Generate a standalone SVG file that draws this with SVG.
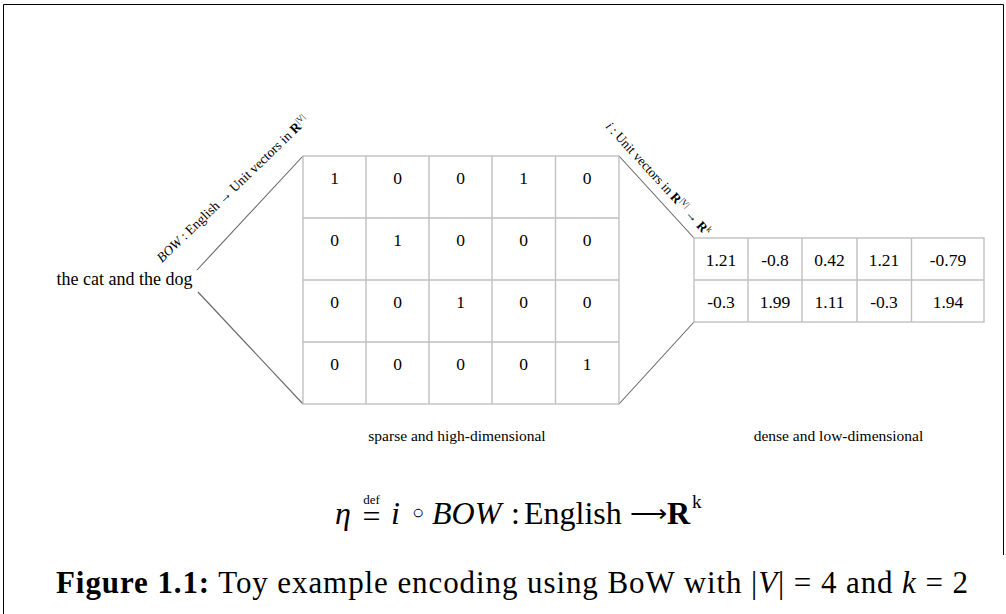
<svg xmlns="http://www.w3.org/2000/svg" width="1006" height="614" viewBox="0 0 1006 614" font-family="'Liberation Serif', 'Times New Roman', serif">
<style>
text{font-family:'Liberation Serif','Times New Roman',serif;fill:#000}
.cell{font-size:17.5px;text-anchor:middle}
.grid{fill:none;stroke:#c0c0c0;stroke-width:1.4}
.conn{stroke:#666;stroke-width:1.1;fill:none}
.frame{stroke:#000;stroke-width:1;fill:none}
</style>
<rect width="1006" height="614" fill="#fff"/>
<path class="frame" d="M3.5,614 V4.5 H1003.5 V555"/>

<g id="connectors">
<line class="conn" x1="197" y1="270" x2="303" y2="156"/>
<line class="conn" x1="198" y1="292" x2="303" y2="404"/>
<line class="conn" x1="619" y1="156" x2="694" y2="238"/>
<line class="conn" x1="619" y1="404" x2="694" y2="322"/>
</g>

<g id="sentence">
<text x="56.5" y="285" font-size="18">the cat and the dog</text>
</g>

<g id="bow-label">
<text font-size="13.5" transform="translate(162,263) rotate(-44)"><tspan font-style="italic">BOW</tspan> : English → Unit vectors in <tspan font-weight="bold">R</tspan><tspan font-size="8.5" dy="-5">|V|</tspan></text>
</g>

<g id="i-label">
<text font-size="13.2" transform="translate(605,127) rotate(47.5)"><tspan font-style="italic">i</tspan> : Unit vectors in <tspan font-weight="bold">R</tspan><tspan font-size="8.5" dy="-5">|V|</tspan><tspan dy="5"> → </tspan><tspan font-weight="bold">R</tspan><tspan font-size="8.5" dy="-5">k</tspan></text>
</g>

<g id="sparse-matrix">
<rect class="grid" x="303" y="156" width="316" height="248"/>
<path class="grid" d="M366,156V404M429,156V404M492,156V404M555.5,156V404M303,218H619M303,280H619M303,342H619"/>
<g class="cell">
<text x="334.5" y="184">1</text><text x="397.5" y="184">0</text><text x="460.5" y="184">0</text><text x="523.5" y="184">1</text><text x="587" y="184">0</text>
<text x="334.5" y="246">0</text><text x="397.5" y="246">1</text><text x="460.5" y="246">0</text><text x="523.5" y="246">0</text><text x="587" y="246">0</text>
<text x="334.5" y="308">0</text><text x="397.5" y="308">0</text><text x="460.5" y="308">1</text><text x="523.5" y="308">0</text><text x="587" y="308">0</text>
<text x="334.5" y="370">0</text><text x="397.5" y="370">0</text><text x="460.5" y="370">0</text><text x="523.5" y="370">0</text><text x="587" y="370">1</text>
</g>
<text x="457" y="441" font-size="15.5" text-anchor="middle">sparse and high-dimensional</text>
</g>

<g id="dense-matrix">
<rect class="grid" x="694" y="238" width="290" height="84"/>
<path class="grid" d="M748,238V322M802,238V322M857,238V322M911.5,238V322M694,280H984"/>
<g class="cell">
<text x="721" y="266">1.21</text><text x="775" y="266">-0.8</text><text x="829.5" y="266">0.42</text><text x="884" y="266">1.21</text><text x="948" y="266">-0.79</text>
<text x="721" y="307.5">-0.3</text><text x="775" y="307.5">1.99</text><text x="829.5" y="307.5">1.11</text><text x="884" y="307.5">-0.3</text><text x="948" y="307.5">1.94</text>
</g>
<text x="838.5" y="441" font-size="15.5" text-anchor="middle">dense and low-dimensional</text>
</g>

<g id="formula" font-size="32">
<text x="335" y="524" font-style="italic">η</text>
<text x="371.5" y="504" font-size="13" text-anchor="middle">def</text>
<text x="371.5" y="527" text-anchor="middle">=</text>
<text x="391" y="524" font-style="italic">i</text>
<text x="418" y="519" text-anchor="middle" font-size="20">○</text>
<text x="432" y="524" font-style="italic">BOW</text>
<text x="511" y="524">:</text>
<text x="524" y="524">English</text>
<text x="629.5" y="522" font-size="25.5">⟶</text>
<text x="667" y="524" font-weight="bold">R</text>
<text x="692" y="508" font-size="19">k</text>
</g>

<g id="caption">
<text x="56" y="593" font-size="31" textLength="912" lengthAdjust="spacing"><tspan font-weight="bold">Figure 1.1:</tspan> Toy example encoding using BoW with |<tspan font-style="italic">V</tspan>| = 4 and <tspan font-style="italic">k</tspan> = 2</text>
</g>
</svg>
